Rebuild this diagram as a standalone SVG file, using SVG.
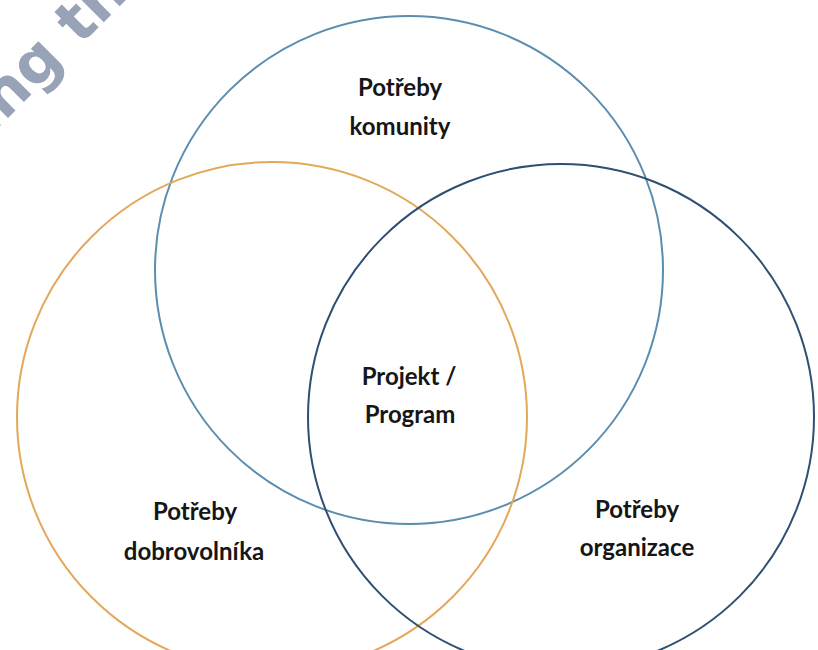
<svg xmlns="http://www.w3.org/2000/svg" width="818" height="650" viewBox="0 0 818 650">
  <style>
    .ring { fill: none; stroke-width: 2; }
    .label { font-family: Lato, "Open Sans", "Liberation Sans", sans-serif; font-weight: bold; font-size: 24px; fill: #161616; text-anchor: middle; }
    .mark { font-family: "DejaVu Sans", sans-serif; font-weight: bold; font-size: 60px; fill: #98a3b7; }
  </style>
  <rect width="818" height="650" fill="#ffffff"/>

  <!-- faint stamp in the corner -->
  <text class="mark" transform="translate(-10,136) rotate(-45)">ing th</text>

  <g id="circles">
    <g id="komunita"><circle class="ring" cx="409" cy="270" r="254" stroke="#5b8db0"/></g>
    <g id="dobrovolnik"><circle class="ring" cx="272" cy="417" r="255" stroke="#e3a85a"/></g>
    <g id="organizace"><circle class="ring" cx="561" cy="417" r="253" stroke="#2f4f72"/></g>
  </g>

  <g id="labels">
    <g id="label-komunita">
      <text class="label" x="400" y="96">Potřeby</text>
      <text class="label" x="400" y="135">komunity</text>
    </g>
    <g id="label-projekt">
      <text class="label" x="409" y="385">Projekt /</text>
      <text class="label" x="410" y="423">Program</text>
    </g>
    <g id="label-dobrovolnik">
      <text class="label" x="195" y="520">Potřeby</text>
      <text class="label" x="194" y="560">dobrovolníka</text>
    </g>
    <g id="label-organizace">
      <text class="label" x="637" y="518">Potřeby</text>
      <text class="label" x="637" y="556">organizace</text>
    </g>
  </g>
</svg>
